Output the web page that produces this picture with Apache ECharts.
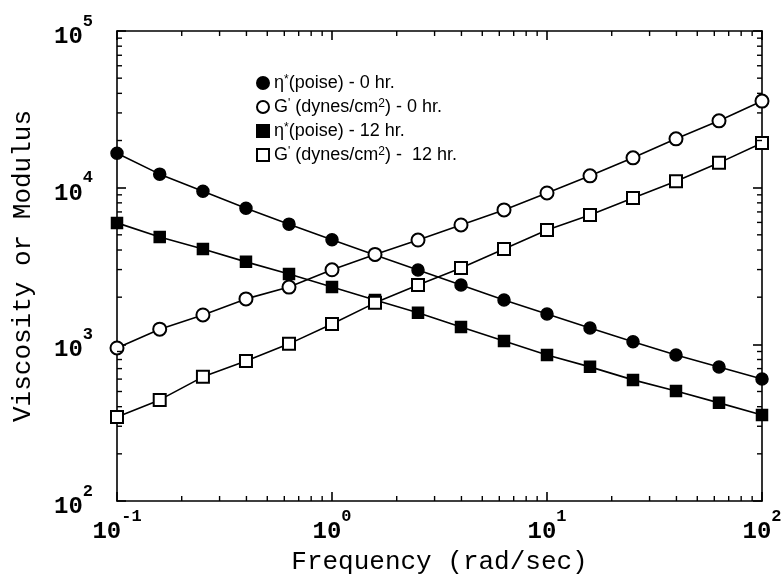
<!DOCTYPE html>
<html>
<head>
<meta charset="utf-8">
<script src="https://cdn.jsdelivr.net/npm/echarts@6/dist/echarts.min.js"></script>
<style>
  html, body { margin: 0; padding: 0; background: #fff; }
  #chart { width: 784px; height: 574px; }
</style>
</head>
<body>
<div id="chart"></div>
<script>
// frequency, rad/sec (5 points per decade)
const freq = [0.1, 0.158, 0.251, 0.398, 0.631, 1, 1.585, 2.512, 3.981, 6.31, 10, 15.85, 25.12, 39.81, 63.1, 100];
const etaHr0 = [16600, 12200, 9500, 7400, 5850, 4650, 3720, 2980, 2390, 1920, 1560, 1270, 1040, 855, 717, 601];
const gHr0 = [948, 1250, 1540, 1950, 2320, 2990, 3750, 4630, 5780, 7210, 9250, 11900, 15500, 20500, 26700, 35700];
const etaHr12 = [5960, 4840, 4060, 3360, 2810, 2320, 1920, 1590, 1290, 1050, 856, 718, 593, 504, 423, 354];
const gHr12 = [344, 442, 620, 783, 1007, 1350, 1840, 2390, 3070, 4060, 5370, 6700, 8600, 11000, 14400, 19300];
const legendNames = ["η*(poise) - 0 hr.", "G' (dynes/cm²) - 0 hr.", "η*(poise) - 12 hr.", "G' (dynes/cm²) -  12 hr."];

const chart = echarts.init(document.getElementById('chart'));
const G = { left: 117, right: 22, top: 31, bottom: 73 };
const monoFont = 'Liberation Mono';

function pairs(ys) {
  return freq.map((f, i) => [f, ys[i]]);
}
function powLabel(v) {
  const e = Math.round(Math.log10(v));
  return '{b|10}{s|' + e + '}';
}
const powRich = {
  b: { fontSize: 24, fontWeight: 'bold', fontFamily: monoFont, color: '#000', lineHeight: 36, verticalAlign: 'bottom' },
  s: { fontSize: 17, fontWeight: 'bold', fontFamily: monoFont, color: '#000', verticalAlign: 'top' }
};
const lineStyle = { color: '#000', width: 1.6 };

function mkSeries(name, ys, symbol, size) {
  return {
    name: name,
    type: 'line',
    data: pairs(ys),
    symbol: symbol,
    symbolSize: size,
    showAllSymbol: true,
    lineStyle: { color: '#000', width: 1.6 },
    itemStyle: { color: '#000', borderColor: '#000', borderWidth: 1.5 },
    emphasis: { disabled: true },
    z: 3
  };
}

const option = {
  backgroundColor: '#fff',
  animation: false,
  grid: Object.assign({ outerBoundsMode: 'none', containLabel: false }, G),
  legend: {
    orient: 'vertical',
    left: 251,
    top: 69,
    itemGap: 6,
    itemWidth: 12,
    itemHeight: 12,
    data: [
      { name: legendNames[0], icon: 'circle' },
      { name: legendNames[1], icon: 'emptyCircle' },
      { name: legendNames[2], icon: 'rect' },
      { name: legendNames[3], icon: 'emptyRect' }
    ],
    formatter: function (n) {
      return n.replace('η*', 'η{sup|*}').replace("G'", "G{sup|'}").replace('cm²', 'cm{sup|2}');
    },
    textStyle: {
      fontFamily: 'Liberation Sans',
      fontSize: 18,
      lineHeight: 18,
      color: '#000',
      rich: {
        sup: { fontSize: 12, fontFamily: 'Liberation Sans', color: '#000', verticalAlign: 'top' }
      }
    },
    selectedMode: false
  },
  xAxis: [{
    type: 'log',
    logBase: 10,
    min: 0.1,
    max: 100,
    name: 'Frequency (rad/sec)',
    nameLocation: 'middle',
    nameGap: 48,
    nameTextStyle: { fontFamily: monoFont, fontSize: 26, color: '#000' },
    axisLine: { lineStyle: lineStyle },
    axisTick: { inside: true, length: 9, lineStyle: lineStyle },
    axisLabel: { formatter: powLabel, rich: powRich, margin: 7 },
    splitLine: { show: false }
  }, {
    type: 'log',
    logBase: 10,
    min: 0.1,
    max: 100,
    position: 'top',
    axisLine: { lineStyle: lineStyle },
    axisTick: { inside: true, length: 9, lineStyle: lineStyle },
    axisLabel: { show: false },
    splitLine: { show: false }
  }],
  yAxis: [{
    type: 'log',
    logBase: 10,
    min: 100,
    max: 100000,
    name: 'Viscosity or Modulus',
    nameLocation: 'middle',
    nameGap: 81,
    nameTextStyle: { fontFamily: monoFont, fontSize: 26, color: '#000' },
    axisLine: { lineStyle: lineStyle },
    axisTick: { inside: true, length: 9, lineStyle: lineStyle },
    axisLabel: { formatter: powLabel, rich: powRich, margin: 24 },
    splitLine: { show: false }
  }, {
    type: 'log',
    logBase: 10,
    min: 100,
    max: 100000,
    position: 'right',
    axisLine: { lineStyle: lineStyle },
    axisTick: { inside: true, length: 9, lineStyle: lineStyle },
    axisLabel: { show: false },
    splitLine: { show: false }
  }],
  series: [
    mkSeries(legendNames[0], etaHr0, 'circle', 12),
    mkSeries(legendNames[1], gHr0, 'emptyCircle', 13),
    mkSeries(legendNames[2], etaHr12, 'rect', 11),
    mkSeries(legendNames[3], gHr12, 'emptyRect', 12)
  ]
};
chart.setOption(option);

// minor ticks at 2..9 within each decade, on all four sides
const W = 784, H = 574;
const x0 = G.left, x1 = W - G.right, y0 = G.top, y1 = H - G.bottom;
const minor = [];
const tickStyle = { stroke: '#000', lineWidth: 1.4 };
function tick(ax1, ay1, ax2, ay2) {
  minor.push({ type: 'line', shape: { x1: ax1, y1: ay1, x2: ax2, y2: ay2 }, style: tickStyle, silent: true, z: 10 });
}
for (let d = -1; d <= 1; d++) {
  for (let m = 2; m <= 9; m++) {
    const px = chart.convertToPixel({ xAxisIndex: 0 }, m * Math.pow(10, d));
    tick(px, y1, px, y1 - 5);
    tick(px, y0, px, y0 + 5);
  }
}
for (let d = 2; d <= 4; d++) {
  for (let m = 2; m <= 9; m++) {
    const py = chart.convertToPixel({ yAxisIndex: 0 }, m * Math.pow(10, d));
    tick(x0, py, x0 + 5, py);
    tick(x1, py, x1 - 5, py);
  }
}
chart.setOption({ graphic: { elements: minor } });
</script>
</body>
</html>
